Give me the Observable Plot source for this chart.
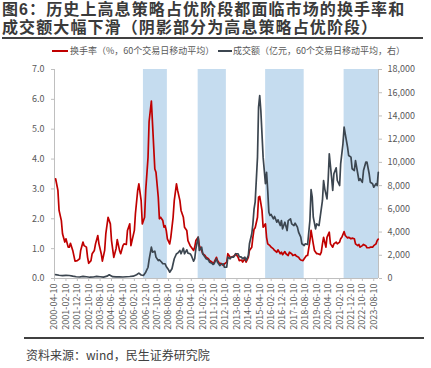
<!DOCTYPE html>
<html><head><meta charset="utf-8">
<script src="https://cdn.jsdelivr.net/npm/d3@7"></script>
<script src="https://cdn.jsdelivr.net/npm/@observablehq/plot@0.6"></script>
<style>
html,body{margin:0;padding:0;background:#fff;}
#wrap{position:relative;width:431px;height:368px;overflow:hidden;font-family:"Noto Sans CJK SC","Noto Sans",sans-serif;}
.abs{position:absolute;white-space:nowrap;}
.title{left:2px;font-family:"Liberation Sans","Noto Sans CJK SC",sans-serif;font-size:16px;line-height:18px;letter-spacing:1.1px;font-weight:bold;color:#3a3a3a;}
.hr{position:absolute;background:#404040;}
.leg{font-size:9px;color:#595959;line-height:10px;}
#src{left:26px;top:348px;font-size:12px;color:#404040;line-height:14px;}
</style></head>
<body><div id="wrap">
<div class="abs title" style="top:1px;">图6：历史上高息策略占优阶段都面临市场的换手率和</div>
<div class="abs title" style="top:19px;">成交额大幅下滑（阴影部分为高息策略占优阶段）</div>
<div class="hr" style="left:2px;top:37px;width:421px;height:2px;"></div>
<div class="abs" style="left:52px;top:50px;width:16px;height:2px;background:#c00000;"></div>
<div class="abs leg" style="left:70px;top:46px;">换手率（%，60个交易日移动平均）</div>
<div class="abs" style="left:218px;top:50px;width:14px;height:2px;background:#3c4650;"></div>
<div class="abs leg" style="left:233px;top:46px;">成交额（亿元，60个交易日移动平均，右）</div>
<div id="chart" class="abs" style="left:0;top:58px;"></div>
<div class="hr" style="left:24px;top:337px;width:400px;height:2px;"></div>
<div id="src" class="abs">资料来源：wind，民生证券研究院</div>
</div>
<script>
const tickLabels = ["2000-04-10","2001-02-10","2001-12-10","2002-10-10","2003-08-10","2004-06-10","2005-04-10","2006-02-10","2006-12-10","2007-10-10","2008-08-10","2009-06-10","2010-04-10","2011-02-10","2011-12-10","2012-10-10","2013-08-10","2014-06-10","2015-04-10","2016-02-10","2016-12-10","2017-10-10","2018-08-10","2019-06-10","2020-04-10","2021-02-10","2021-12-10","2022-10-10","2023-08-10"];

const bandStarts = ["2006-10-10","2010-10-10","2015-09-15","2021-06-10"];
const bandEnds   = ["2008-07-10","2012-11-01","2018-07-10","2023-12-15"];

const turnDates = ["2000-05","2000-07","2000-08","2000-10","2000-11","2001-01","2001-02","2001-04","2001-05","2001-06","2001-08","2001-10","2001-12","2002-02","2002-03","2002-05","2002-06","2002-08","2002-09","2002-10","2002-12","2003-01","2003-03","2003-04","2003-06","2003-07","2003-09","2003-10","2003-12","2004-01","2004-03","2004-05","2004-06","2004-08","2004-10","2004-11","2005-01","2005-02","2005-04","2005-05","2005-07","2005-08","2005-10","2005-11","2005-12","2006-02","2006-03","2006-05","2006-06","2006-08","2006-09","2006-11","2006-12","2007-02","2007-03","2007-05","2007-06","2007-08","2007-09","2007-11","2007-12","2008-01","2008-03","2008-04","2008-05","2008-06","2008-07","2008-09","2008-10","2008-12","2009-01","2009-03","2009-04","2009-06","2009-07","2009-09","2009-10","2009-12","2010-01","2010-03","2010-04","2010-06","2010-07","2010-08","2010-10","2010-11","2011-01","2011-02","2011-04","2011-05","2011-07","2011-08","2011-10","2011-11","2011-12","2012-02","2012-03","2012-05","2012-06","2012-08","2012-09","2012-11","2012-12","2013-02","2013-03","2013-05","2013-06","2013-07","2013-09","2013-10","2013-12","2014-01","2014-03","2014-04","2014-06","2014-07","2014-09","2014-10","2014-11","2014-12","2015-02","2015-03","2015-04","2015-06","2015-07","2015-09","2015-10","2015-11","2016-01","2016-02","2016-04","2016-05","2016-07","2016-08","2016-10","2016-11","2016-12","2017-02","2017-03","2017-05","2017-06","2017-08","2017-09","2017-11","2017-12","2018-02","2018-03","2018-04","2018-06","2018-07","2018-09","2018-10","2018-12","2019-01","2019-03","2019-04","2019-06","2019-07","2019-09","2019-10","2019-11","2019-12","2020-02","2020-03","2020-05","2020-06","2020-08","2020-09","2020-11","2020-12","2021-02","2021-03","2021-04","2021-06","2021-07","2021-09","2021-10","2021-12","2022-01","2022-03","2022-04","2022-06","2022-07","2022-08","2022-10","2022-11","2023-01","2023-02","2023-04","2023-05","2023-07","2023-08","2023-10","2023-11","2023-12"];
const turnValues = [3.34,2.95,2.28,1.94,1.50,1.22,1.33,1.05,1.05,1.18,0.94,0.58,0.60,0.66,0.94,1.22,1.10,1.05,0.71,0.51,0.60,0.83,0.94,1.16,1.44,1.16,0.83,0.58,0.94,1.50,2.05,1.83,1.27,0.71,1.00,1.30,0.94,0.83,1.10,1.16,1.14,1.61,1.83,1.10,1.27,1.61,2.17,2.95,3.17,2.61,1.83,2.05,2.95,4.06,5.25,5.94,5.18,3.67,3.56,2.72,2.00,2.05,1.94,1.72,1.77,1.61,1.33,1.16,1.38,2.05,2.61,3.17,2.95,2.61,2.28,2.05,1.72,1.61,1.27,1.10,1.05,0.94,1.05,1.27,1.38,1.10,0.94,0.83,0.77,0.71,0.66,0.60,0.55,0.49,0.55,0.71,0.60,0.49,0.51,0.44,0.49,0.55,0.83,0.71,0.71,0.74,0.77,0.83,0.71,0.60,0.62,0.55,0.66,0.55,0.71,0.94,1.05,1.38,1.65,1.70,2.05,2.72,2.75,2.28,1.72,1.83,1.38,1.16,1.10,1.05,0.99,0.94,0.88,0.96,0.83,0.88,0.80,0.90,0.83,0.77,0.88,0.83,0.77,0.80,0.75,0.71,0.66,0.62,0.60,0.66,0.77,0.77,1.27,1.61,1.16,0.94,0.83,0.83,0.80,0.88,1.16,1.38,1.05,1.38,1.55,1.16,1.05,1.16,1.22,1.16,1.22,1.33,1.38,1.57,1.44,1.36,1.38,1.33,1.35,1.33,1.16,1.10,1.14,1.05,1.10,1.14,1.10,1.03,1.03,1.05,1.05,1.10,1.16,1.27,1.32];

const volDates = ["2000-05","2000-08","2000-11","2001-02","2001-05","2001-08","2001-11","2002-02","2002-05","2002-08","2002-11","2003-02","2003-05","2003-08","2003-11","2004-02","2004-04","2004-07","2004-10","2005-01","2005-04","2005-07","2005-10","2006-01","2006-04","2006-06","2006-08","2006-10","2006-12","2007-02","2007-03","2007-05","2007-06","2007-08","2007-09","2007-11","2007-12","2008-02","2008-03","2008-05","2008-06","2008-08","2008-09","2008-11","2008-12","2009-01","2009-03","2009-04","2009-06","2009-07","2009-09","2009-10","2009-12","2010-01","2010-03","2010-04","2010-06","2010-07","2010-08","2010-10","2010-11","2011-01","2011-02","2011-04","2011-05","2011-07","2011-08","2011-10","2011-11","2011-12","2012-02","2012-03","2012-05","2012-06","2012-08","2012-09","2012-11","2012-12","2013-02","2013-03","2013-05","2013-06","2013-07","2013-09","2013-10","2013-12","2014-01","2014-03","2014-04","2014-06","2014-07","2014-09","2014-10","2014-11","2014-12","2015-02","2015-03","2015-04","2015-05","2015-07","2015-09","2015-10","2015-11","2015-12","2016-01","2016-02","2016-04","2016-05","2016-07","2016-08","2016-10","2016-11","2016-12","2017-02","2017-04","2017-05","2017-07","2017-08","2017-10","2017-11","2018-01","2018-02","2018-04","2018-05","2018-07","2018-08","2018-10","2018-12","2019-01","2019-02","2019-03","2019-05","2019-06","2019-08","2019-09","2019-11","2019-12","2020-01","2020-03","2020-04","2020-05","2020-07","2020-08","2020-09","2020-11","2020-12","2021-02","2021-03","2021-05","2021-06","2021-07","2021-09","2021-10","2021-12","2022-01","2022-03","2022-04","2022-06","2022-07","2022-08","2022-10","2022-11","2023-01","2023-02","2023-04","2023-05","2023-07","2023-08","2023-10","2023-11","2023-12"];
const volValues = [330,280,250,270,260,200,150,130,180,150,110,130,180,150,120,200,320,160,140,150,130,150,170,200,330,460,300,260,540,970,1600,2700,2270,2350,1840,1550,1610,1400,1270,1270,1030,750,540,840,1270,1700,2130,2180,2410,2130,2610,2130,2470,2180,2130,1980,1490,1700,2560,3560,2410,2700,2130,1840,1700,1610,1400,1320,1210,1270,1700,1400,1120,1210,1270,970,970,1840,1700,1840,1840,1980,2130,2130,1890,1840,1700,1840,1550,1980,2990,3850,4710,6000,6600,10450,14750,15760,14470,10450,8160,9150,7580,5710,5430,5510,5140,5340,4850,5050,4560,4990,4280,4850,4130,4990,5140,4710,4560,4760,4420,3990,3560,2990,2840,2990,2930,5000,7650,7000,5280,4280,4710,4560,5280,6720,8440,7720,6860,8440,10740,8720,7580,9020,9530,8440,8010,9880,11600,13030,12460,11310,10590,10450,9450,9300,10160,9020,8440,8590,8290,9300,10020,10020,9020,8290,8160,7860,8160,8010,9150];

const leftTicks = [0,1,2,3,4,5,6,7];
const rightTicks = [0,2000,4000,6000,8000,10000,12000,14000,16000,18000];
const leftMax = 7, rightMax = 18000;

const pd = s => new Date(s + "T00:00:00Z");
const turn = turnDates.map((d,i) => ({date: pd(d + "-10"), v: turnValues[i]}));
const vol = volDates.map((d,i) => ({date: pd(d + "-10"), v: volValues[i]}));
const bands = bandStarts.map((s,i) => ({start: pd(s), end: pd(bandEnds[i])}));
const xDomain = [pd("2000-04-10"), pd("2023-12-15")];
const toLeft = v => v * leftMax / rightMax;

const chart = Plot.plot({
  width: 431, height: 277,
  marginLeft: 54, marginRight: 53, marginTop: 11, marginBottom: 57,
  x: {type: "utc", domain: xDomain, label: null},
  y: {domain: [0, leftMax], label: null},
  style: {fontFamily: '"Noto Sans CJK SC","Noto Sans",sans-serif', fontSize: "9px", color: "#595959", background: "transparent", overflow: "visible"},
  marks: [
    Plot.rect(bands, {x1: "start", x2: "end", fill: "#c5dcef"}),
    Plot.ruleY([0], {stroke: "#bfbfbf"}),
    Plot.ruleX([xDomain[0]], {stroke: "#bfbfbf"}),
    Plot.ruleX([xDomain[1]], {stroke: "#bfbfbf"}),
    Plot.axisY(leftTicks, {anchor: "left", tickFormat: d3.format(".1f"), tickSize: 3, tickPadding: 7, stroke: "#bfbfbf", fontSize: 9}),
    Plot.axisY(rightTicks.map(toLeft), {anchor: "right", tickFormat: d => d3.format(",")(Math.round(d * rightMax / leftMax)), tickSize: 3, tickPadding: 6, stroke: "#bfbfbf", fontSize: 9}),
    Plot.axisX(tickLabels.map(pd), {tickFormat: d3.utcFormat("%Y-%m-%d"), tickRotate: -90, tickSize: 3, tickPadding: 2, stroke: "#bfbfbf", fontSize: 9}),
    Plot.line(turn, {x: "date", y: "v", stroke: "#c00000", strokeWidth: 1.7}),
    Plot.line(vol, {x: "date", y: d => toLeft(d.v), stroke: "#3c4650", strokeWidth: 1.7})
  ]
});
document.getElementById("chart").appendChild(chart);
</script>
</body></html>
